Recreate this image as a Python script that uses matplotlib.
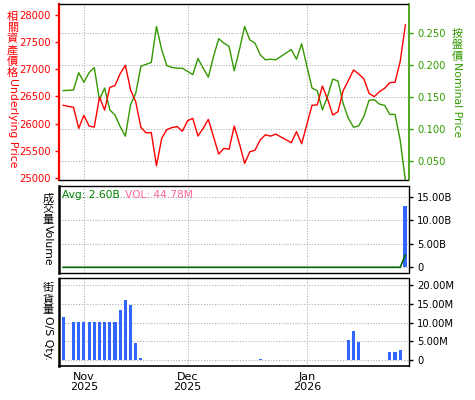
import numpy as np
import matplotlib
matplotlib.use("Agg")
import matplotlib.pyplot as plt
from matplotlib.ticker import FuncFormatter, FixedLocator

# trading days (weekday axis, holidays left as gaps)
dates = ["2025-10-28", "2025-10-30", "2025-10-31",
         "2025-11-03", "2025-11-04", "2025-11-05", "2025-11-06", "2025-11-07",
         "2025-11-10", "2025-11-11", "2025-11-12", "2025-11-13", "2025-11-14",
         "2025-11-17", "2025-11-18", "2025-11-19", "2025-11-20", "2025-11-21",
         "2025-11-24", "2025-11-25", "2025-11-26", "2025-11-27", "2025-11-28",
         "2025-12-01", "2025-12-02", "2025-12-03", "2025-12-04", "2025-12-05",
         "2025-12-08", "2025-12-09", "2025-12-10", "2025-12-11", "2025-12-12",
         "2025-12-15", "2025-12-16", "2025-12-17", "2025-12-18", "2025-12-19",
         "2025-12-22", "2025-12-23", "2025-12-24",
         "2025-12-29", "2025-12-30", "2025-12-31",
         "2026-01-02",
         "2026-01-05", "2026-01-06", "2026-01-07", "2026-01-08", "2026-01-09",
         "2026-01-12", "2026-01-13", "2026-01-14", "2026-01-15", "2026-01-16",
         "2026-01-19", "2026-01-20", "2026-01-21", "2026-01-22", "2026-01-23",
         "2026-01-26", "2026-01-27", "2026-01-28"]

underlying = [26337, 26300, 25913,
              26153, 25956, 25935, 26486, 26250,
              26668, 26700, 26920, 27073, 26620,
              26400, 25930, 25830, 25835, 25225,
              25727, 25890, 25928, 25945, 25860,
              26054, 26097, 25772, 25913, 26078,
              25760, 25440, 25545, 25530, 25955,
              25630, 25268, 25483, 25510, 25698,
              25795, 25770, 25807,
              25650, 25852, 25630,
              26337,
              26345, 26692, 26450, 26158, 26220,
              26606, 26790, 26987, 26914, 26822,
              26557, 26496, 26588, 26650, 26754,
              26760, 27141, 27816]

nominal = [0.160, 0.161, 0.188,
           0.173, 0.188, 0.196, 0.146, 0.164,
           0.130, 0.122, 0.104, 0.089, 0.138,
           0.156, 0.198, 0.201, 0.204, 0.260,
           0.224, 0.199, 0.196, 0.195, 0.195,
           0.190, 0.185, 0.210, 0.195, 0.181,
           0.213, 0.241, 0.234, 0.229, 0.191,
           0.224, 0.260, 0.239, 0.234, 0.216,
           0.208, 0.209, 0.208,
           0.224, 0.209, 0.233,
           0.164,
           0.160, 0.130, 0.151, 0.178, 0.175,
           0.140, 0.117, 0.103, 0.105, 0.120,
           0.145, 0.146, 0.139, 0.137, 0.123,
           0.123, 0.083, 0.020]

# turnover in billions, and its running average line
volume = [0.0] * 62 + [13.0]
volume_avg = [0.0] * 62 + [2.6]

# outstanding quantity in millions
os_qty = [11.5, 10.1, 10.1,
          10.1, 10.1, 10.1, 10.1, 10.1,
          10.1, 10.1, 13.3, 16.1, 14.6,
          4.6, 0.5, 0, 0, 0,
          0, 0, 0, 0, 0,
          0, 0, 0, 0, 0,
          0, 0, 0, 0, 0,
          0, 0, 0, 0, 0.25,
          0, 0, 0,
          0, 0, 0,
          0,
          0, 0, 0, 0, 0,
          0, 5.35, 7.7, 4.9, 0,
          0, 0, 0, 0, 2.1,
          2.1, 2.6, 0]

month_dates = ["2025-11-03", "2025-12-01", "2026-01-01"]
month_labels = ["Nov\n2025", "Dec\n2025", "Jan\n2026"]

avg_text = "Avg: 2.60B"
vol_text = "VOL: 44.78M"

start = dates[0]
x = np.busday_count(start, dates)
month_x = np.busday_count(start, month_dates)

RED = "#ff0000"
GREEN = "#339900"
BLUE = "#3366ff"
GRID = "#b0b0b0"
FS = 7.2
CJK = ["Noto Sans CJK TC", "DejaVu Sans"]

W, H = 475, 400
fig = plt.figure(figsize=(W / 100, H / 100), dpi=100)


def box(left, top, right, bottom):
    return [left / W, 1 - bottom / H, (right - left) / W, (bottom - top) / H]


def vlabel(px, top, cjk, latin, color, step, fs_cjk=8, fs_lat=FS + 0.6):
    y = top
    for ch in cjk:
        fig.text(px / W, 1 - (y + step / 2) / H, ch, color=color, fontsize=fs_cjk,
                 family=CJK, ha="center", va="center")
        y += step
    fig.text(px / W, 1 - y / H, latin, color=color, fontsize=fs_lat,
             rotation=-90, ha="center", va="top")


def dotted(sp, color="black", lw=1.0):
    sp.set_linestyle((0, (1, 1)))
    sp.set_color(color)
    sp.set_linewidth(lw)


xlim = (-0.8, 66.7)

# ---- top panel: nominal (right, owns grid) + underlying (left) ----
ax1 = fig.add_axes(box(59, 4, 409, 180))
ax1l = ax1.twinx()
ax1.yaxis.tick_right()
ax1l.yaxis.tick_left()

ax1.plot(x, nominal, color=GREEN, lw=1.0, zorder=3)
ax1l.plot(x, underlying, color=RED, lw=1.0, zorder=3)

ax1.set_xlim(*xlim)
ax1.set_ylim(0.0208, 0.295)
ax1.set_yticks([0.05, 0.10, 0.15, 0.20, 0.25])
ax1.yaxis.set_major_formatter(FuncFormatter(lambda v, p: f"{v:.3f}"))
ax1l.set_ylim(24963, 28200)
ax1l.set_yticks(np.arange(25000, 28001, 500))

ax1.set_xticks(month_x)
ax1.set_xticklabels([])
ax1.tick_params(axis="x", length=0)
ax1.grid(True, color=GRID, linestyle=(0, (1, 1.5)), lw=0.8)
ax1.tick_params(axis="y", colors=GREEN, labelcolor=GREEN, labelsize=FS,
                length=3, width=1, pad=3, right=True, left=False,
                labelright=True, labelleft=False)
ax1l.tick_params(axis="y", colors=RED, labelcolor=RED, labelsize=FS,
                 length=3, width=1, pad=3, left=True, right=False,
                 labelleft=True, labelright=False)

for sp in ax1.spines.values():
    sp.set_visible(False)
dotted(ax1l.spines["top"])
dotted(ax1l.spines["bottom"])
ax1l.spines["left"].set_color(RED)
ax1l.spines["left"].set_linewidth(1.6)
ax1l.spines["right"].set_color(GREEN)
ax1l.spines["right"].set_linewidth(1.2)

# ---- middle panel: turnover ----
ax2 = fig.add_axes(box(59, 186, 409, 273))
ax2.bar(x, volume, width=0.75, color=BLUE, zorder=2)
ax2.plot(x, volume_avg, color="#006600", lw=1.2, zorder=3)
ax2.set_xlim(*xlim)
ax2.set_ylim(-1.21, 17.27)
ax2.set_yticks([0, 5, 10, 15])
ax2.yaxis.set_major_formatter(FuncFormatter(lambda v, p: "0" if v == 0 else f"{v:.2f}B"))
ax2.set_xticks(month_x)
ax2.set_xticklabels([])
ax2.tick_params(axis="x", length=0)
ax2.yaxis.tick_right()
ax2.tick_params(axis="y", labelsize=FS, length=3, width=1, pad=3)
ax2.grid(True, color=GRID, linestyle=(0, (1, 1.5)), lw=0.8)
ax2.set_axisbelow(True)
for k in ["top", "bottom"]:
    dotted(ax2.spines[k])
dotted(ax2.spines["left"], lw=1.8)
ax2.spines["right"].set_linewidth(1.0)
ax2.text(62 / W, 0, "", transform=fig.transFigure)
fig.text(62 / W, 1 - 195 / H, avg_text, color="#008000", fontsize=FS + 0.5,
         ha="left", va="center")
fig.text(125 / W, 1 - 195 / H, vol_text, color="#ff6699", fontsize=FS + 0.5,
         ha="left", va="center")

# ---- bottom panel: outstanding quantity ----
ax3 = fig.add_axes(box(59, 278, 409, 366))
ax3.bar(x, os_qty, width=0.6, color=BLUE, zorder=2)
ax3.set_xlim(*xlim)
ax3.set_ylim(-1.6, 21.87)
ax3.set_yticks([0, 5, 10, 15, 20])
ax3.yaxis.set_major_formatter(FuncFormatter(lambda v, p: "0" if v == 0 else f"{v:.2f}M"))
ax3.yaxis.tick_right()
ax3.tick_params(axis="y", labelsize=FS, length=3, width=1, pad=3)
ax3.set_xticks(month_x)
ax3.set_xticklabels(month_labels, fontsize=FS + 0.8, linespacing=1.1)
ax3.tick_params(axis="x", length=0, pad=4)
ax3.grid(True, color=GRID, linestyle=(0, (1, 1.5)), lw=0.8)
ax3.set_axisbelow(True)
dotted(ax3.spines["top"])
dotted(ax3.spines["left"], lw=1.8)
ax3.spines["right"].set_linewidth(1.0)
ax3.spines["bottom"].set_linewidth(1.2)

# ---- axis titles: CJK upright, latin rotated ----
vlabel(12.5, 11, "相關資產價格", "Underlying Price", RED, 11.2)
vlabel(457, 28, "按盤價", "Nominal Price", GREEN, 11.3)
vlabel(48, 193, "成交量", "Volume", "black", 10.8)
vlabel(48, 282, "街貨量", "O/S Qty.", "black", 11.2)

fig.savefig("out.png", dpi=100)
